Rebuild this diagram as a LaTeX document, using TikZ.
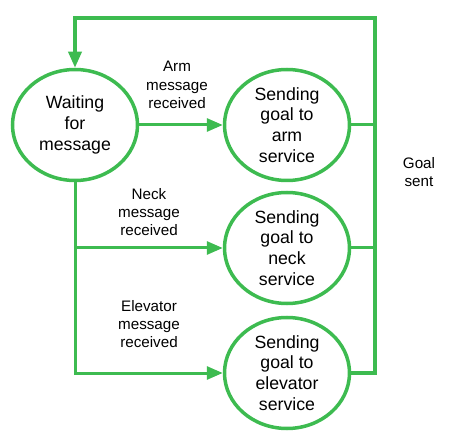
\documentclass[tikz,border=0pt]{standalone}
\usepackage{fontspec}
\setmainfont{Liberation Sans}
\usetikzlibrary{shapes.geometric,arrows.meta}
\definecolor{lgreen}{RGB}{61,187,80}
\tikzset{
  state/.style={ellipse, draw=lgreen, line width=3.5pt, minimum width=125pt, minimum height=111pt, inner sep=0pt, align=center, font=\fontsize{17.7}{20.7}\selectfont},
  lbl/.style={align=center, inner sep=0pt, font=\fontsize{15.2}{18.3}\selectfont},
  conn/.style={draw=lgreen, line width=3pt},
  arr/.style={conn, -{Triangle[length=16pt,width=13pt]}},
}
\begin{document}
\begin{tikzpicture}[x=1pt,y=-1pt]
\useasboundingbox (0,0) rectangle (452,443);
\node[state] (wait) at (75,125) {Waiting\\for\\message};
\node[state] (arm) at (287,125) {Sending\\goal to\\arm\\service};
\node[state] (neck) at (287,248) {Sending\\goal to\\neck\\service};
\node[state] (elev) at (287,373) {Sending\\goal to\\elevator\\service};
\coordinate (tr) at (375,18);
\node[lbl] (larm) at (177,85) {Arm\\message\\received};
\node[lbl] (lneck) at (149,212) {Neck\\message\\received};
\node[lbl] (lelev) at (149,324) {Elevator\\message\\received};
\node[lbl] (lgoal) at (419,172) {Goal\\sent};
\draw[arr] (wait.east) -- (arm.west);
\draw[arr] (wait.south) |- (elev.west);
\draw[arr] (wait.south |- neck.west) -- (neck.west);
\draw[conn] (arm.east) -- (arm.east -| tr);
\draw[conn] (neck.east) -- (neck.east -| tr);
\draw[arr, line width=3.5pt] (elev.east) -| (tr) -| (wait.north);
\end{tikzpicture}
\end{document}
